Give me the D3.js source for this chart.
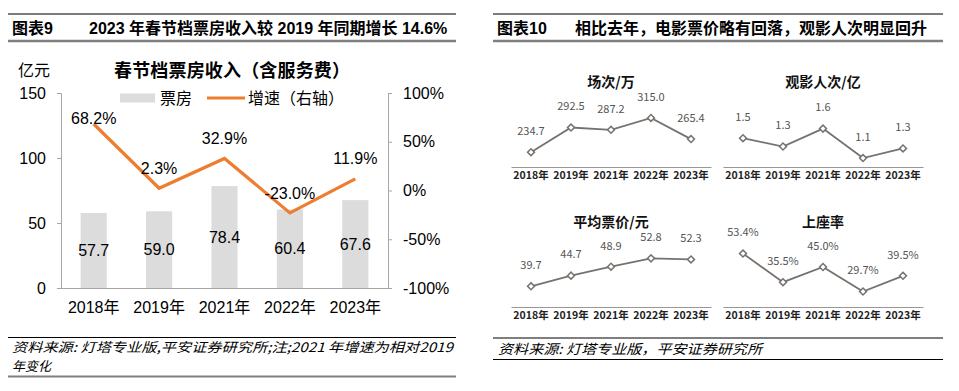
<!DOCTYPE html>
<head>
  <meta charset="utf-8">
  <script src="https://d3js.org/d3.v7.min.js"></script>
</head>
<style>
  body { margin: 0; background: #fff; }
  svg { display: block; }
  .arial { font-family: "Liberation Sans", Arial, "Noto Sans CJK SC", sans-serif; }
  .noto { font-family: "Noto Sans CJK SC", sans-serif; }
</style>
<body>
<div id="chart"></div>
<script>
'use strict';

// left chart data
var years = ["2018年", "2019年", "2021年", "2022年", "2023年"];
var boxOffice = [57.7, 59.0, 78.4, 60.4, 67.6];          // 亿元
var growth = [68.2, 2.3, 32.9, -23.0, 11.9];              // %
var leftTicks = [0, 50, 100, 150];
var rightTicks = [-100, -50, 0, 50, 100];

// small multiples data
var screenings = [234.7, 292.5, 287.2, 315.0, 265.4];    // 场次/万
var admissions = [1.45, 1.32, 1.60, 1.14, 1.29];         // 观影人次/亿
var admissionLabels = ["1.5", "1.3", "1.6", "1.1", "1.3"];
var avgPrice = [39.7, 44.7, 48.9, 52.8, 52.3];           // 平均票价/元
var occupancy = [53.4, 35.5, 45.0, 29.7, 39.5];          // 上座率 %

var W = 959, H = 391;
var svg = d3.select("#chart").append("svg").attr("width", W).attr("height", H);
svg.append("rect").attr("width", W).attr("height", H).attr("fill", "#fff");

// ---------- headers ----------
function header(x0, x1, label, title, titleX) {
  svg.append("line").attr("x1", x0).attr("x2", x1).attr("y1", 14).attr("y2", 14)
    .attr("stroke", "#505050").attr("stroke-width", 1.3);
  svg.append("line").attr("x1", x0).attr("x2", x1).attr("y1", 41).attr("y2", 41)
    .attr("stroke", "#7f7f7f").attr("stroke-width", 2.5);
  svg.append("text").attr("class", "arial").attr("x", x0 + 4).attr("y", 34)
    .style("font-size", "16px").style("font-weight", "bold").text(label);
  svg.append("text").attr("class", "arial").attr("x", titleX).attr("y", 34)
    .style("font-size", "16px").style("font-weight", "bold").text(title);
}
header(8, 456, "图表9", "2023 年春节档票房收入较 2019 年同期增长 14.6%", 89);
header(493, 943, "图表10", "相比去年，电影票价略有回落，观影人次明显回升", 575);

// ---------- left combo chart ----------
var plot = {left: 61, right: 388, top: 93, bottom: 288};
var x = d3.scaleBand().domain(years).range([plot.left, plot.right]).paddingInner(0.6).paddingOuter(0.3);
var yL = d3.scaleLinear().domain([0, 150]).range([plot.bottom, plot.top]);
var yR = d3.scaleLinear().domain([-100, 100]).range([plot.bottom, plot.top]);
var cx = function(d) { return x(d) + x.bandwidth() / 2; };

var g = svg.append("g").attr("class", "arial").style("font-size", "16px");

g.append("text").attr("x", 34).attr("y", 70).attr("dy", "0.35em").attr("text-anchor", "middle").text("亿元");
g.append("text").attr("x", 232).attr("y", 71).attr("dy", "0.35em").attr("text-anchor", "middle")
  .style("font-size", "18px").style("font-weight", "bold")
  .attr("textLength", 236).attr("lengthAdjust", "spacing")
  .text("春节档票房收入（含服务费）");

// axes
var axL = g.append("g").attr("transform", "translate(" + plot.left + ",0)")
  .call(d3.axisLeft(yL).tickValues(leftTicks).tickSize(4).tickPadding(11));
var axR = g.append("g").attr("transform", "translate(" + plot.right + ",0)")
  .call(d3.axisRight(yR).tickValues(rightTicks).tickSize(4).tickPadding(11).tickFormat(function(d) { return d + "%"; }));
var axB = g.append("g").attr("transform", "translate(0," + plot.bottom + ")")
  .call(d3.axisBottom(x).tickSize(0).tickPadding(14));
[axL, axR, axB].forEach(function(a) {
  a.selectAll("path, line").attr("stroke", "#a6a6a6");
  a.selectAll("text").style("font-family", null).style("font-size", "16px").attr("fill", "#000");
  a.attr("font-family", null).attr("font-size", null);
});
axB.select(".domain").attr("d", "M" + plot.left + ",0.5H" + plot.right);

// bars
g.selectAll("rect.bar").data(boxOffice).enter().append("rect").attr("class", "bar")
  .attr("x", function(d, i) { return x(years[i]); })
  .attr("y", function(d) { return yL(d); })
  .attr("width", x.bandwidth())
  .attr("height", function(d) { return yL(0) - yL(d); })
  .attr("fill", "#dcdcdc");
g.selectAll("text.barlab").data(boxOffice).enter().append("text").attr("class", "barlab")
  .attr("x", function(d, i) { return cx(years[i]); })
  .attr("y", function(d) { return (yL(d) + yL(0)) / 2; })
  .attr("dy", "0.35em").attr("text-anchor", "middle")
  .text(function(d) { return d.toFixed(1); });

// growth line
var line = d3.line().x(function(d, i) { return cx(years[i]); }).y(function(d) { return yR(d); });
g.append("path").datum(growth).attr("d", line).attr("fill", "none")
  .attr("stroke", "#ed7d31").attr("stroke-width", 3.2).attr("stroke-linejoin", "miter");
g.selectAll("text.glab").data(growth).enter().append("text").attr("class", "glab")
  .attr("x", function(d, i) { return cx(years[i]); })
  .attr("y", function(d) { return Math.max(yR(d) - 20, 118); })
  .attr("dy", "0.35em").attr("text-anchor", "middle")
  .text(function(d) { return d.toFixed(1) + "%"; });

// legend
var lg = g.append("g");
lg.append("rect").attr("x", 120).attr("y", 93.5).attr("width", 35).attr("height", 9).attr("fill", "#dcdcdc");
lg.append("text").attr("x", 160).attr("y", 98).attr("dy", "0.35em").text("票房");
lg.append("line").attr("x1", 207).attr("x2", 245).attr("y1", 98).attr("y2", 98)
  .attr("stroke", "#ed7d31").attr("stroke-width", 3.2);
lg.append("text").attr("x", 248).attr("y", 98).attr("dy", "0.35em").text("增速（右轴）");

// ---------- small multiples ----------
var panels = [
  {title: "场次/万", values: screenings, domain: [200, 350], x0: 511, base: 167,
   label: function(d) { return d.toFixed(1); }},
  {title: "观影人次/亿", values: admissions, domain: [1, 2], x0: 723, base: 167,
   label: function(d, i) { return admissionLabels[i]; }},
  {title: "平均票价/元", values: avgPrice, domain: [30, 60], x0: 511, base: 307,
   label: function(d) { return d.toFixed(1); }},
  {title: "上座率", values: occupancy, domain: [20, 60], x0: 723, base: 307,
   label: function(d) { return d.toFixed(1) + "%"; }}
];

panels.forEach(function(p) {
  var pg = svg.append("g").attr("class", "noto");
  var sx = d3.scaleBand().domain(years).range([p.x0, p.x0 + 200]);
  var sy = d3.scaleLinear().domain(p.domain).range([p.base, p.base - 64]);
  var px = function(i) { return sx(years[i]) + sx.bandwidth() / 2; };

  pg.append("text").attr("x", p.x0 + 100).attr("y", p.base - 85).attr("dy", "0.35em")
    .attr("text-anchor", "middle").style("font-size", "14px").style("font-weight", "bold")
    .attr("fill", "#111").text(p.title);

  var ax = pg.append("g").attr("transform", "translate(0," + p.base + ")")
    .call(d3.axisBottom(sx).tickSize(0).tickPadding(5));
  ax.select(".domain").attr("stroke", "#9a9693").attr("stroke-width", 1.2);
  ax.attr("font-family", null).attr("font-size", null);
  ax.selectAll("text").style("font-size", "10.5px").style("font-weight", "bold").attr("fill", "#222");

  var sl = d3.line().x(function(d, i) { return px(i); }).y(function(d) { return sy(d); });
  pg.append("path").datum(p.values).attr("d", sl).attr("fill", "none")
    .attr("stroke", "#77726e").attr("stroke-width", 1.8);

  pg.selectAll("path.mk").data(p.values).enter().append("path").attr("class", "mk")
    .attr("d", d3.symbol(d3.symbolSquare, 24))
    .attr("transform", function(d, i) { return "translate(" + px(i) + "," + sy(d) + ") rotate(45)"; })
    .attr("fill", "#fff").attr("stroke", "#77726e").attr("stroke-width", 1.5);

  pg.selectAll("text.vl").data(p.values).enter().append("text").attr("class", "vl")
    .attr("x", function(d, i) { return px(i); })
    .attr("y", function(d) { return sy(d) - 21; })
    .attr("dy", "0.35em").attr("text-anchor", "middle")
    .style("font-size", "11px").attr("fill", "#555")
    .text(p.label);
});

// ---------- sources ----------
svg.append("line").attr("x1", 8).attr("x2", 456).attr("y1", 337.5).attr("y2", 337.5)
  .attr("stroke", "#000").attr("stroke-width", 1.2);
svg.append("line").attr("x1", 8).attr("x2", 456).attr("y1", 376.5).attr("y2", 376.5)
  .attr("stroke", "#7f7f7f").attr("stroke-width", 2.2);
svg.append("text").attr("class", "noto").attr("x", 12).attr("y", 352)
  .style("font-size", "13px").style("font-style", "italic")
  .attr("textLength", 441).attr("lengthAdjust", "spacingAndGlyphs")
  .text("资料来源: 灯塔专业版,平安证券研究所;注;2021 年增速为相对2019");
svg.append("text").attr("class", "noto").attr("x", 12).attr("y", 371)
  .style("font-size", "13px").style("font-style", "italic").text("年变化");

svg.append("line").attr("x1", 493).attr("x2", 943).attr("y1", 338).attr("y2", 338)
  .attr("stroke", "#000").attr("stroke-width", 1.2);
svg.append("line").attr("x1", 493).attr("x2", 943).attr("y1", 359.5).attr("y2", 359.5)
  .attr("stroke", "#000").attr("stroke-width", 1.2);
svg.append("text").attr("class", "noto").attr("x", 498).attr("y", 354)
  .style("font-size", "13.5px").style("font-style", "italic")
  .attr("textLength", 264).attr("lengthAdjust", "spacingAndGlyphs")
  .text("资料来源: 灯塔专业版，平安证券研究所");
</script>
</body>
